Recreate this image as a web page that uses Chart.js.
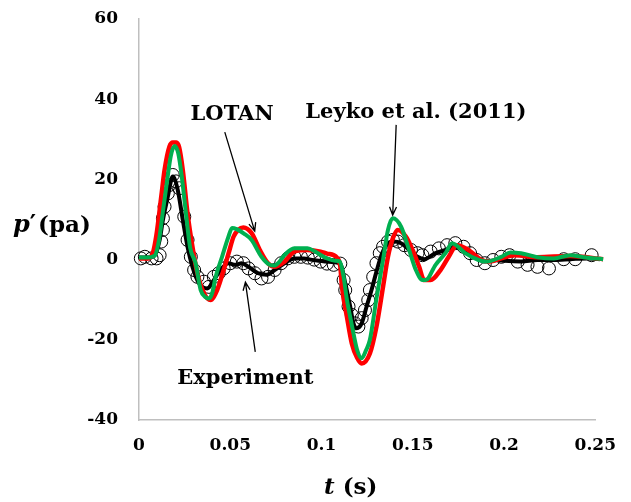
<!DOCTYPE html>
<html>
<head>
<meta charset="utf-8">
<script src="https://cdn.jsdelivr.net/npm/chart.js@4.4.1/dist/chart.umd.min.js"></script>
<style>
  html, body { margin: 0; padding: 0; background: #fff; }
  #wrap { width: 631px; height: 502px; }
</style>
</head>
<body>
<div id="wrap"><canvas id="pChart" width="631" height="502"></canvas></div>
<script>
// pressure fluctuation p' vs time t
const xTickLabels = ['0', '0.05', '0.1', '0.15', '0.2', '0.25'];
const yTickLabels = ['-40', '-20', '0', '20', '40', '60'];

// Leyko et al. (2011) - green
const tLeyko = [0, 0.004, 0.0086, 0.011, 0.013, 0.0155, 0.0175, 0.0195, 0.0215, 0.0235,
  0.0257, 0.028, 0.031, 0.0338, 0.0365, 0.0383, 0.040, 0.042, 0.0455, 0.049,
  0.051, 0.0535, 0.0575, 0.0617, 0.0671, 0.0716, 0.074, 0.077, 0.0797, 0.0851,
  0.0923, 0.0965, 0.100, 0.103, 0.1075, 0.110, 0.112, 0.1139, 0.1158, 0.1175,
  0.1195, 0.122, 0.1245, 0.1265, 0.130, 0.1337, 0.1364, 0.1391, 0.1436, 0.148,
  0.1517, 0.1553, 0.1571, 0.1625, 0.1679, 0.1715, 0.1787, 0.186, 0.1904, 0.1985,
  0.2035, 0.2093, 0.2183, 0.2273, 0.2363, 0.2435, 0.2543];
const pLeyko = [0.5, 0.5, 1, 5, 11.6, 20, 26, 28.3, 26.5, 20.5,
  11.6, 3, -0.9, -7.6, -9.4, -9.7, -8.5, -4.3, 0.7, 5.7,
  7.9, 7.6, 6.5, 4.9, 0.7, -1.3, -1.5, -0.5, 1.1, 2.8,
  2.8, 2, 1, 0.3, -0.3, -0.5, -4, -10, -14.5, -18.4,
  -22.5, -24.6, -22.5, -20, -10, -0.1, 7.4, 10.3, 8.2, 2.4,
  -2.6, -5.1, -5.1, -1.3, 1.6, 4.1, 1.6, -0.1, -0.5, 0.7,
  1.8, 1.6, 0.6, 0.3, 1.1, 0.6, 0.1];

// LOTAN - red
const tLotan = [0, 0.005, 0.0075, 0.0095, 0.0122, 0.014, 0.0167, 0.0185, 0.0205, 0.022,
  0.024, 0.0266, 0.0293, 0.032, 0.0356, 0.0392, 0.0428, 0.0464, 0.0491, 0.0518,
  0.0545, 0.0572, 0.0617, 0.0662, 0.0707, 0.0743, 0.0797, 0.0851, 0.0923, 0.0995,
  0.103, 0.1085, 0.1103, 0.1112, 0.1139, 0.1166, 0.1195, 0.122, 0.1265, 0.1301,
  0.1337, 0.1364, 0.1391, 0.1418, 0.1463, 0.1499, 0.1535, 0.1562, 0.1598, 0.1652,
  0.1697, 0.1742, 0.1805, 0.1877, 0.1922, 0.1985, 0.2057, 0.2183, 0.2363, 0.2543];
const pLotan = [0.3, 0.3, 1.5, 6, 15.7, 22.3, 28.2, 29.2, 29.2, 28,
  22.3, 11.5, 3.2, -3.4, -8.4, -10.1, -7.6, -2.6, 1.6, 5.7,
  7.5, 8, 6.6, 2.4, -0.9, -1.8, -0.5, 2, 2.4, 2,
  1.5, 0.5, -1.8, -6.8, -14.2, -20.9, -24.5, -25.9, -23.4, -16.7,
  -6.8, 0.7, 5.3, 7.4, 5.7, 2.4, -1.8, -5.1, -5.1, -2.6,
  0.7, 3.6, 2.4, -0.1, -0.5, 0.3, 1.1, 0.6, 0.9, 0.1];

// experiment - smoothed curve (black)
const tExpFit = [0, 0.005, 0.0085, 0.0113, 0.0131, 0.0158, 0.0185, 0.0212, 0.024, 0.0266,
  0.0293, 0.0329, 0.0374, 0.041, 0.0446, 0.0491, 0.0527, 0.0563, 0.06, 0.0653,
  0.0698, 0.0743, 0.0797, 0.0851, 0.0905, 0.094, 0.099, 0.103, 0.1103, 0.113,
  0.1157, 0.1175, 0.1193, 0.122, 0.1247, 0.1274, 0.1301, 0.1328, 0.1355, 0.1391,
  0.1436, 0.148, 0.1526, 0.1562, 0.1625, 0.1679, 0.1733, 0.1787, 0.1841, 0.1895,
  0.1967, 0.2003, 0.2093, 0.2183, 0.2273, 0.2363, 0.2453, 0.2525];
const pExpFit = [0.5, 0.5, 1, 4.9, 9.9, 15.7, 20.7, 17.4, 9.9, 3.2,
  -1.8, -5.9, -7.2, -5.1, -2.6, -0.9, -1.3, -0.9, -1.8, -3.4,
  -3.8, -2.6, -0.9, 0.3, 0.3, 0, -0.3, -0.5, -1, -5.9,
  -11.7, -15.9, -17.1, -15.9, -11.7, -7.6, -3, 1.1, 3.6, 4.5,
  4.1, 2.4, 0.7, 0.1, 1.6, 2.4, 3.2, 2.4, 0.7, -0.5,
  -0.1, -0.3, -0.5, -0.1, -0.1, 0.1, 0.3, 0.1];

// experiment - measured samples (open circles)
const tExp = [0.001, 0.0032, 0.0069, 0.0096, 0.0113, 0.0122, 0.0131, 0.0131, 0.014, 0.0158,
  0.0167, 0.0185, 0.0203, 0.0221, 0.0248, 0.0266, 0.0284, 0.0302, 0.032, 0.0356,
  0.0383, 0.041, 0.0437, 0.0464, 0.05, 0.0536, 0.0572, 0.06, 0.0635, 0.0671,
  0.0707, 0.0743, 0.0779, 0.0815, 0.0851, 0.0887, 0.0925, 0.096, 0.0995, 0.103,
  0.1067, 0.1103, 0.1121, 0.113, 0.1148, 0.1166, 0.1184, 0.1202, 0.122, 0.1238,
  0.1256, 0.1265, 0.1283, 0.1301, 0.1319, 0.1337, 0.1364, 0.1391, 0.1418, 0.1454,
  0.149, 0.1526, 0.1553, 0.1598, 0.1643, 0.1688, 0.1733, 0.1778, 0.1814, 0.185,
  0.1895, 0.194, 0.1985, 0.203, 0.2075, 0.2129, 0.2183, 0.2246, 0.2327, 0.239,
  0.248, 0.2543];
const pExp = [0.3, 0.7, 0.3, 0.3, 1.1, 4.5, 7.4, 10.3, 13.2, 16.5,
  18.6, 21.1, 19.5, 17.8, 10.7, 4.9, 0.7, -2.6, -4.3, -5.5,
  -6.8, -4.3, -3.4, -2.2, -0.9, -0.5, -0.9, -2.2, -3.4, -4.7,
  -4.3, -2.6, -0.9, 0.3, 0.7, 0.7, 0.5, 0, -0.5, -1,
  -1.3, -1, -5.1, -7.6, -11.7, -13.8, -15.9, -16.7, -14.6, -12.6,
  -10.1, -7.6, -4.3, -0.9, 1.6, 3.2, 4.5, 4.9, 4.5, 3.6,
  2.4, 1.6, 1.1, 2, 2.8, 3.6, 4.1, 3.2, 1.6, -0.1,
  -0.9, -0.1, 0.7, 1.1, -0.5, -1.3, -1.8, -2.2, 0.1, 0.1,
  1.1, 0.7];

// callout labels with arrows (data coordinates)
const noteText = ['LOTAN', 'Leyko et al. (2011)', 'Experiment'];
const noteX = [0.0510, 0.1517, 0.0583];
const noteY = [36.2, 36.6, -29.6];
const arrowFromX = [0.0470, 0.1409, 0.0637];
const arrowFromY = [31.8, 33.6, -23.0];
const arrowToX = [0.0634, 0.1390, 0.0583];
const arrowToY = [7.1, 11.1, -5.6];

const pts = (xs, ys) => xs.map((x, i) => ({ x: x, y: ys[i] }));

const SERIF = '"DejaVu Serif", "Liberation Serif", serif';

function drawArrow(ctx, x1, y1, x2, y2) {
  const ang = Math.atan2(y2 - y1, x2 - x1);
  const len = 9;
  ctx.beginPath();
  ctx.moveTo(x1, y1);
  ctx.lineTo(x2, y2);
  ctx.moveTo(x2 - len * Math.cos(ang - 0.4), y2 - len * Math.sin(ang - 0.4));
  ctx.lineTo(x2, y2);
  ctx.lineTo(x2 - len * Math.cos(ang + 0.4), y2 - len * Math.sin(ang + 0.4));
  ctx.stroke();
}

// draws text pieces side by side, each with its own font
function drawRun(ctx, parts, x, y) {
  let cx = x;
  parts.forEach(p => {
    ctx.font = p.font;
    ctx.fillText(p.text, cx, y);
    cx += ctx.measureText(p.text).width + (p.gap || 0);
  });
}

const calloutPlugin = {
  id: 'callouts',
  afterDraw(chart) {
    const ctx = chart.ctx;
    const xs = chart.scales.x, ys = chart.scales.y;
    ctx.save();
    ctx.fillStyle = '#000';
    ctx.strokeStyle = '#000';
    ctx.lineWidth = 1.3;
    ctx.textAlign = 'center';
    ctx.textBaseline = 'middle';
    ctx.font = 'bold 21px ' + SERIF;
    noteText.forEach((txt, i) => {
      ctx.fillText(txt, xs.getPixelForValue(noteX[i]), ys.getPixelForValue(noteY[i]));
      drawArrow(ctx,
        xs.getPixelForValue(arrowFromX[i]), ys.getPixelForValue(arrowFromY[i]),
        xs.getPixelForValue(arrowToX[i]), ys.getPixelForValue(arrowToY[i]));
    });

    // axis titles
    ctx.textAlign = 'left';
    ctx.textBaseline = 'alphabetic';
    drawRun(ctx, [
      { text: 'p', font: 'bold italic 24px ' + SERIF },
      { text: '\u2032', font: 'bold 24px ' + SERIF, gap: 2 },
      { text: '(pa)', font: 'bold 23px ' + SERIF }
    ], 13, 232);
    drawRun(ctx, [
      { text: 't', font: 'bold italic 23px ' + SERIF, gap: 0 },
      { text: ' (s)', font: 'bold 23px ' + SERIF }
    ], 324, 494);
    ctx.restore();
  }
};

const tickFont = { family: SERIF, size: 17, weight: 'bold' };

new Chart(document.getElementById('pChart'), {
  type: 'scatter',
  data: {
    datasets: [
      {
        label: 'Leyko et al. (2011)',
        data: pts(tLeyko, pLeyko),
        showLine: true,
        borderColor: '#00b050',
        borderWidth: 4,
        pointRadius: 0,
        cubicInterpolationMode: 'monotone',
        clip: false
      },
      {
        label: 'LOTAN',
        data: pts(tLotan, pLotan),
        showLine: true,
        borderColor: '#ff0000',
        borderWidth: 4.5,
        pointRadius: 0,
        cubicInterpolationMode: 'monotone',
        clip: false
      },
      {
        label: 'Experiment (fit)',
        data: pts(tExpFit, pExpFit),
        showLine: true,
        borderColor: '#000',
        borderWidth: 4,
        pointRadius: 0,
        cubicInterpolationMode: 'monotone',
        clip: false
      },
      {
        label: 'Experiment',
        data: pts(tExp, pExp),
        showLine: false,
        pointRadius: 6.5,
        pointBackgroundColor: 'rgba(0,0,0,0)',
        pointBorderColor: '#000',
        pointBorderWidth: 1,
        clip: false
      }
    ]
  },
  options: {
    responsive: false,
    animation: false,
    events: [],
    layout: { padding: { left: 0, top: 19, right: 29, bottom: 0 } },
    plugins: { legend: { display: false }, tooltip: { enabled: false } },
    scales: {
      x: {
        type: 'linear',
        min: 0,
        max: 0.25,
        afterFit: s => { s.height = 82; },
        afterBuildTicks: s => { s.ticks = xTickLabels.map(v => ({ value: Number(v) })); },
        ticks: {
          color: '#000',
          font: tickFont,
          padding: 15,
          maxRotation: 0,
          callback: (v, i) => xTickLabels[i]
        },
        grid: { drawOnChartArea: false, drawTicks: false },
        border: { display: true, color: '#bfbfbf', width: 1.5 }
      },
      y: {
        type: 'linear',
        min: -40,
        max: 60,
        // fixed axis width; tick padding should not push the plot down
        afterFit: s => { s.width = 139; s.paddingTop = 0; s.paddingBottom = 0; },
        afterBuildTicks: s => { s.ticks = yTickLabels.map(v => ({ value: Number(v) })); },
        ticks: {
          color: '#000',
          font: tickFont,
          padding: 21,
          callback: (v, i) => yTickLabels[i]
        },
        grid: { drawOnChartArea: false, drawTicks: false },
        border: { display: true, color: '#bfbfbf', width: 1.5 }
      }
    }
  },
  plugins: [calloutPlugin]
});
</script>
</body>
</html>
